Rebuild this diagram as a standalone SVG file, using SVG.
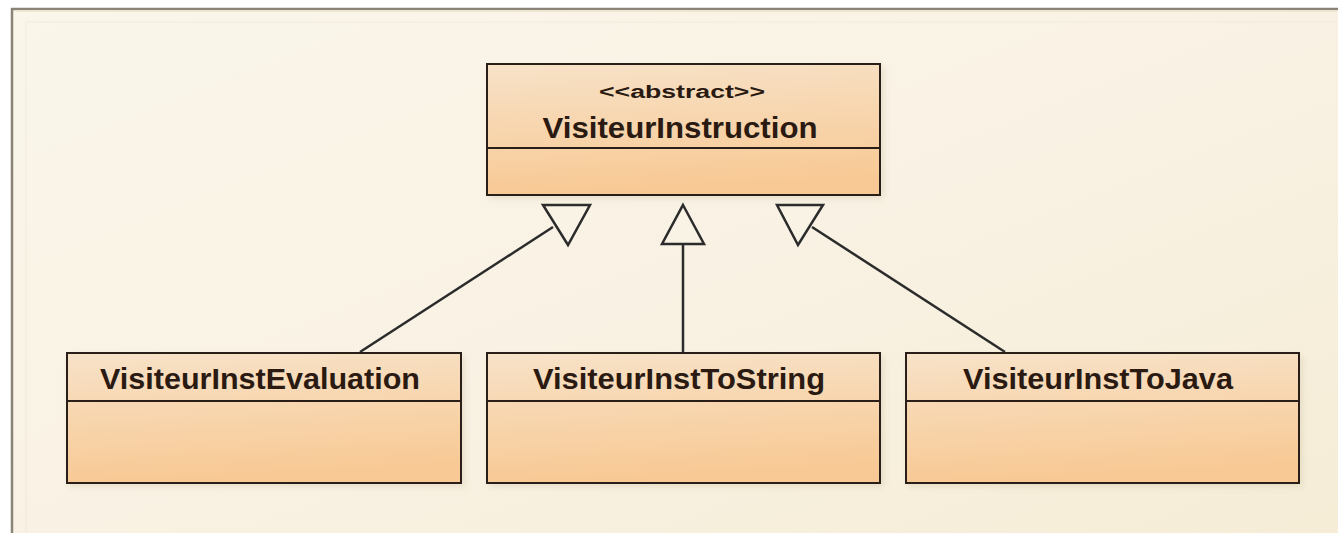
<svg xmlns="http://www.w3.org/2000/svg" width="1338" height="533" viewBox="0 0 1338 533">
  <defs>
    <linearGradient id="bg" x1="0" y1="0" x2="1" y2="1">
      <stop offset="0" stop-color="#faf6ea"/>
      <stop offset="0.5" stop-color="#f9f2e4"/>
      <stop offset="1" stop-color="#f5edd6"/>
    </linearGradient>
    <linearGradient id="box" x1="0" y1="0" x2="0.15" y2="1">
      <stop offset="0" stop-color="#f7e2c8"/>
      <stop offset="1" stop-color="#f8c994"/>
    </linearGradient>
    <filter id="sh" x="-5%" y="-10%" width="110%" height="120%">
      <feGaussianBlur stdDeviation="3"/>
    </filter>
    <style>
      .shadow { fill: #d9cdb4; opacity: 0.5; filter: url(#sh); }
      .cls { fill: url(#box); stroke: #2a1e18; stroke-width: 2; }
      .div { stroke: #2a1e18; stroke-width: 2; }
      .name { font-family: "Liberation Sans", Arial, sans-serif; font-weight: bold; font-size: 30px; fill: #2a1a12; text-anchor: middle; }
      .stereo { font-family: "Liberation Sans", Arial, sans-serif; font-weight: bold; font-size: 18px; fill: #2a1a12; text-anchor: middle; }
      .edge { stroke: #2b2b2b; stroke-width: 2.5; fill: none; }
      .tri { stroke: #2b2b2b; stroke-width: 2.5; fill: #f9f3e6; stroke-linejoin: miter; }
    </style>
  </defs>

  <rect x="0" y="0" width="1338" height="533" fill="#ffffff"/>
  <rect x="11" y="8" width="1327" height="525" fill="url(#bg)"/>
  <line x1="12" y1="8" x2="12" y2="533" stroke="#8a8478" stroke-width="2.5"/>
  <line x1="11" y1="9" x2="1338" y2="9" stroke="#8a8478" stroke-width="2.5"/>
  <line x1="16" y1="11" x2="1338" y2="11" stroke="#efe6d2" stroke-width="2"/>
  <line x1="26" y1="22" x2="1338" y2="22" stroke="#f1eadb" stroke-width="1"/>
  <line x1="26" y1="22" x2="26" y2="533" stroke="#f1eadb" stroke-width="1"/>

  <g id="connectors">
    <line class="edge" x1="360" y1="352" x2="553" y2="227"/>
    <polygon class="tri" points="543,205 590,205 568,245"/>
    <line class="edge" x1="683" y1="352" x2="683" y2="244"/>
    <polygon class="tri" points="683,205 704,244 662,244"/>
    <line class="edge" x1="1005" y1="352" x2="812" y2="227"/>
    <polygon class="tri" points="777,205 823,205 798,245"/>
  </g>

  <g id="VisiteurInstruction">
    <rect class="shadow" x="489" y="67" width="395" height="132"/>
    <rect class="cls" x="487" y="64" width="393" height="131"/>
    <line class="div" x1="487" y1="148" x2="880" y2="148"/>
    <text class="stereo" x="682" y="98" textLength="166" lengthAdjust="spacingAndGlyphs">&lt;&lt;abstract&gt;&gt;</text>
    <text class="name" x="680" y="138" textLength="275" lengthAdjust="spacingAndGlyphs">VisiteurInstruction</text>
  </g>

  <g id="VisiteurInstEvaluation">
    <rect class="shadow" x="69" y="356" width="396" height="131"/>
    <rect class="cls" x="67" y="353" width="394" height="130"/>
    <line class="div" x1="67" y1="401" x2="461" y2="401"/>
    <text class="name" x="260" y="389" textLength="320" lengthAdjust="spacingAndGlyphs">VisiteurInstEvaluation</text>
  </g>

  <g id="VisiteurInstToString">
    <rect class="shadow" x="489" y="356" width="395" height="131"/>
    <rect class="cls" x="487" y="353" width="393" height="130"/>
    <line class="div" x1="487" y1="401" x2="880" y2="401"/>
    <text class="name" x="679" y="389" textLength="292" lengthAdjust="spacingAndGlyphs">VisiteurInstToString</text>
  </g>

  <g id="VisiteurInstToJava">
    <rect class="shadow" x="908" y="356" width="395" height="131"/>
    <rect class="cls" x="906" y="353" width="393" height="130"/>
    <line class="div" x1="906" y1="401" x2="1299" y2="401"/>
    <text class="name" x="1098" y="389" textLength="270" lengthAdjust="spacingAndGlyphs">VisiteurInstToJava</text>
  </g>
</svg>
